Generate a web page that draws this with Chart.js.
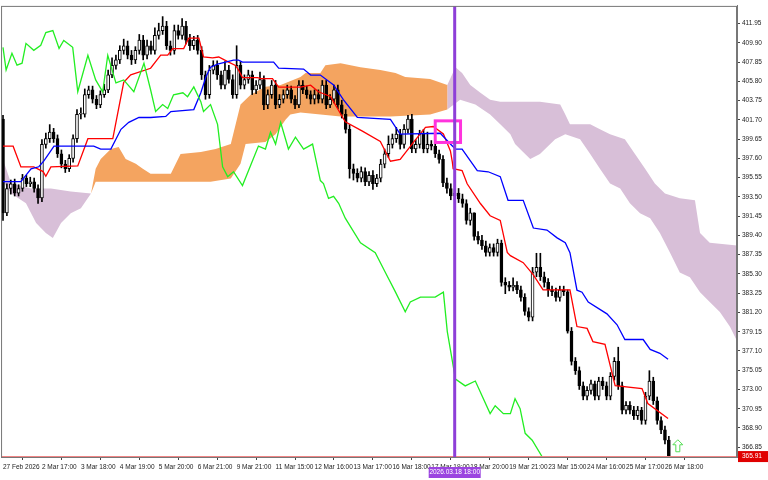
<!DOCTYPE html>
<html><head><meta charset="utf-8">
<script src="https://cdn.jsdelivr.net/npm/chart.js@4"></script>
<style>html,body{margin:0;padding:0;background:#fff}canvas{display:block}</style>
</head><body>
<canvas id="c" width="768" height="480"></canvas>
<script>
const xTickLabels=["27 Feb 2026","2 Mar 17:00","3 Mar 18:00","4 Mar 19:00","5 Mar 20:00","6 Mar 21:00","9 Mar 21:00","11 Mar 15:00","12 Mar 16:00","13 Mar 17:00","16 Mar 18:00","17 Mar 19:00","18 Mar 20:00","19 Mar 21:00","23 Mar 15:00","24 Mar 16:00","25 Mar 17:00","26 Mar 18:00"];
const yTicks=[411.95,409.90,407.85,405.80,403.75,401.70,399.65,397.60,395.55,393.50,391.45,389.40,387.35,385.30,383.25,381.20,379.15,377.10,375.05,373.00,370.95,368.90,366.85];
const opens=[401.8,391.8,394.4,394.9,393.9,394.4,395.5,394.9,395.1,394.4,
393.4,399.1,399.7,400.4,399.7,398.1,397.0,396.5,397.6,399.7,
402.3,402.3,404.4,404.9,403.9,403.3,404.4,404.9,406.5,407.5,
408.1,409.1,409.6,408.6,408.1,409.1,410.2,408.6,409.6,409.1,
410.7,411.2,411.7,409.6,409.1,411.2,410.7,411.7,410.2,409.6,
410.2,409.1,406.5,404.4,407.0,407.5,406.5,405.4,407.0,406.0,
404.4,407.5,405.4,406.0,406.5,404.9,405.4,406.0,403.3,404.4,
405.4,403.3,403.9,404.4,404.9,403.9,403.3,405.4,404.9,404.4,
403.9,404.4,403.9,405.4,403.3,403.9,404.9,403.3,402.3,400.7,
396.5,396.0,395.5,396.2,395.1,395.8,394.9,395.5,397.0,398.1,
399.1,399.7,400.2,399.1,400.7,401.8,398.6,399.1,400.2,398.6,
399.1,398.9,398.1,397.5,395.0,394.4,393.6,393.9,393.3,392.8,
391.0,391.8,389.3,388.9,388.3,387.6,388.1,387.6,388.6,384.4,
384.1,383.9,384.1,383.6,382.8,381.3,380.7,385.5,386.0,385.0,
384.4,383.6,383.4,382.8,383.6,383.4,379.2,376.0,375.0,373.4,
372.3,372.9,373.6,372.3,373.9,373.4,372.3,374.4,376.0,373.4,
370.8,371.3,370.8,370.2,370.8,369.7,372.3,373.9,371.8,369.7,368.7,367.6];
const highs=[402.2,394.9,395.3,395.4,394.8,395.9,395.8,395.6,395.5,394.8,
399.6,400.3,401.2,400.8,400.1,398.5,397.4,398.0,400.1,402.8,
403.0,405.0,405.3,405.3,404.3,404.8,405.5,407.0,408.3,408.6,
409.6,410.3,410.1,409.1,409.5,410.8,410.7,410.2,410.1,411.5,
412.0,412.7,412.2,410.1,411.8,411.8,412.5,412.2,410.8,410.6,
410.7,409.5,406.9,407.5,408.0,408.0,406.9,407.9,407.5,406.5,
409.6,407.9,406.5,407.0,406.9,405.9,406.8,406.4,404.9,405.9,
405.9,404.4,404.9,405.4,405.3,404.3,405.9,405.9,405.3,404.8,
404.9,404.9,405.9,405.9,404.4,405.4,405.4,403.8,402.8,401.2,
397.0,396.5,396.7,396.6,396.2,396.3,395.9,397.5,398.6,400.0,
400.2,400.9,400.7,401.2,402.2,402.3,399.6,400.6,400.7,400.4,
399.5,399.3,398.5,397.9,395.5,394.9,394.3,394.4,393.8,393.2,
392.3,391.8,389.8,389.4,388.8,388.5,388.5,389.0,388.9,384.9,
384.5,384.9,384.5,384.0,383.2,381.7,386.0,387.5,387.5,385.5,
384.8,384.0,383.8,384.0,384.0,383.6,379.6,376.4,375.4,373.8,
373.3,374.0,373.9,374.3,374.3,373.8,374.8,376.4,377.5,373.8,
371.7,371.7,371.2,371.2,371.1,372.7,375.0,374.3,372.2,370.1,369.1,368.0];
const lows=[391.0,391.5,393.8,393.6,393.6,394.1,394.6,394.6,394.0,392.8,
393.0,398.7,399.3,399.3,397.7,396.6,396.1,396.2,397.2,399.3,
401.8,402.0,404.0,403.5,402.9,403.0,404.1,404.6,406.2,407.1,
407.7,408.7,408.2,407.6,407.7,408.7,408.1,408.2,408.7,408.7,
410.3,410.8,409.2,408.6,408.7,410.3,410.3,409.8,409.1,409.2,
408.7,406.0,403.9,404.0,406.6,406.0,405.0,405.0,405.6,404.0,
404.0,405.0,405.0,405.6,404.4,404.5,405.0,402.8,402.9,404.0,
402.9,403.0,403.5,404.0,403.5,402.9,403.0,404.5,404.0,403.4,
403.4,403.5,403.5,402.9,403.0,403.5,402.9,401.9,400.3,395.5,
395.3,395.1,395.1,394.7,394.7,394.3,394.6,395.1,396.6,397.7,
398.7,399.3,398.6,398.7,400.3,398.2,398.2,398.7,398.2,398.2,
398.5,397.7,397.1,394.6,393.9,393.2,393.2,392.9,392.4,390.6,
390.5,388.9,388.5,387.9,387.2,387.2,387.2,387.2,384.0,383.2,
383.5,383.5,383.2,382.4,380.9,380.3,380.3,385.0,384.6,383.9,
382.9,383.0,382.4,382.4,383.0,379.0,375.6,374.6,373.0,371.9,
371.9,372.5,371.9,371.9,373.0,371.9,371.9,374.0,373.0,370.4,
370.4,370.4,369.8,369.8,369.3,369.3,371.9,371.4,369.3,368.3,367.2,365.5];
const closes=[391.8,394.4,394.9,393.9,394.4,395.5,394.9,395.1,394.4,393.4,
399.1,399.7,400.4,399.7,398.1,397.0,396.5,397.6,399.7,402.3,
402.3,404.4,404.9,403.9,403.3,404.4,404.9,406.5,407.5,408.1,
409.1,409.6,408.6,408.1,409.1,410.2,408.6,409.6,409.1,410.7,
411.2,411.7,409.6,409.1,411.2,410.7,411.7,410.2,409.6,410.2,
409.1,406.5,404.4,407.0,407.5,406.5,405.4,407.0,406.0,404.4,
407.5,405.4,406.0,406.5,404.9,405.4,406.0,403.3,404.4,405.4,
403.3,403.9,404.4,404.9,403.9,403.3,405.4,404.9,404.4,403.9,
404.4,403.9,405.4,403.3,403.9,404.9,403.3,402.3,400.7,396.5,
396.0,395.5,396.2,395.1,395.8,394.9,395.5,397.0,398.1,399.1,
399.7,400.2,399.1,400.7,401.8,398.6,399.1,400.2,398.6,399.1,
398.9,398.1,397.5,395.0,394.4,393.6,393.9,393.3,392.8,391.0,
391.8,389.3,388.9,388.3,387.6,388.1,387.6,388.6,384.4,384.1,
383.9,384.1,383.6,382.8,381.3,380.7,385.5,386.0,385.0,384.4,
383.6,383.4,382.8,383.6,383.4,379.2,376.0,375.0,373.4,372.3,
372.9,373.6,372.3,373.9,373.4,372.3,374.4,376.0,373.4,370.8,
371.3,370.8,370.2,370.8,369.7,372.3,373.9,371.8,369.7,368.7,367.6,365.9];
// indicator vertices [barIndex, price]
const tenkan=[[0,398.9],[2.6,398.9],[4.6,396.7],[7.9,396.7],[10.3,396.2],[11,395.7],[12.3,396.7],[19.2,396.8],[21.8,399.7],[28.2,399.7],[31,405.7],[32.8,406.5],[37.9,407.2],[40.5,408.6],[42.3,408.6],[43.6,409.3],[46.4,409.3],[47.7,410.4],[50.3,410.4],[51.5,408.4],[53.8,408.3],[55.4,408.4],[57.7,407.9],[59.7,407.5],[60.5,407.0],[61.5,406.2],[65.4,406.2],[66.2,406.1],[69.2,406.1],[70.8,405.2],[76.4,405.2],[79,405.4],[81,404.7],[84.1,404.2],[87.9,401.5],[92.3,400.5],[96.9,399.4],[99.5,397.3],[102,397.5],[105.4,399.3],[108.5,400.9],[110.5,401.0],[113.1,400.2],[114.9,398.4],[115.4,397.2],[115.6,396.5],[117.9,396.3],[119.2,394.9],[122.6,392.8],[125.1,391.5],[127.7,391.0],[129.5,387.6],[130.3,387.25],[133.6,386.5],[136.2,385.2],[138.7,383.6],[145.6,383.6],[147.4,379.7],[150,379.5],[151.5,378.1],[154.6,377.8],[157.2,373.4],[164.1,373.1],[165.6,371.5],[170.8,369.9]];
const kijun=[[0,395.13],[4.6,395.13],[7.2,396.5],[9.2,396.71],[10.5,397.34],[13.1,398.92],[23.3,398.92],[25.1,398.6],[27.7,398.6],[30.3,400.7],[32.3,401.44],[34.9,401.96],[37.9,401.96],[41.8,402.07],[43.1,402.59],[49,402.8],[50.8,404.59],[52.1,406.27],[53.3,407.32],[55.1,407.64],[59.2,408.06],[60.5,408.06],[61.5,407.85],[69.5,407.85],[70.8,407.22],[77.2,407.11],[79,406.48],[81.5,406.48],[84.9,405.43],[87.4,403.86],[91,401.96],[99.5,401.75],[102,400.18],[112.3,400.28],[114.9,399.13],[116.2,398.6],[117.9,398.6],[121.8,396.29],[124.6,396.18],[127.7,395.66],[129.7,393.14],[133.6,393.14],[136.2,390.19],[139.7,389.98],[142.3,389.14],[144.4,388.62],[145.6,387.57],[147.4,383.57],[148.7,383.36],[150.3,382.31],[155.1,381.05],[157.7,379.89],[159.7,378.32],[164.4,378.32],[166.2,377.27],[168.7,376.85],[170.8,376.22]];
const chikou=[[0,409.43],[0.8,407.01],[2.3,408.8],[3.6,407.53],[4.9,407.74],[5.9,409.85],[7.9,409.11],[9.7,409.64],[11,411.0],[12.8,411.21],[14.4,409.32],[15.6,410.16],[17.9,409.43],[19.2,404.7],[21.8,408.59],[23.8,405.96],[25.6,404.7],[26.9,408.59],[29,405.64],[31,405.96],[33.6,404.7],[36.2,407.74],[37.9,404.91],[39.2,402.59],[41,403.33],[42.3,402.91],[43.8,404.38],[46.2,404.59],[47.4,404.17],[49,405.22],[50.8,403.64],[51.5,402.59],[53.3,403.33],[55.1,401.23],[56.4,396.71],[57.7,395.66],[59.2,396.18],[61.5,394.71],[65.6,398.92],[67.4,398.6],[68.7,400.39],[70,399.13],[71.3,401.44],[73.3,398.6],[75.1,399.86],[77.2,398.6],[79.5,399.13],[81.5,395.24],[82.3,394.92],[83.6,393.35],[84.9,393.56],[86.2,392.82],[87.9,391.24],[91.8,388.62],[95.6,387.57],[98.2,385.46],[100.8,383.36],[103.3,381.26],[104.6,382.31],[107.2,382.84],[111,382.84],[113.1,383.36],[114.1,379.16],[116.2,374.11],[118.7,373.38],[121.3,373.9],[125.1,370.43],[126.4,371.27],[128.5,370.43],[130.3,370.43],[131.5,372.01],[132.8,370.96],[134.1,368.33],[135.9,367.6],[138.5,365.81]];
const cloudLeftDown=[[-0.5,398.08],[2.1,394.92],[7.2,394.4],[12.3,394.4],[17.4,394.08],[22.6,393.87],[20,392.29],[17.4,391.77],[14.9,390.72],[12.8,389.14],[11,389.67],[8.5,390.72],[5.9,392.82],[2.1,393.87],[-0.5,395.45]];
const cloudUp=[[22.6,393.87],[23.8,396.5],[25.1,397.55],[27.7,398.6],[29.7,398.81],[31.5,397.55],[34.1,397.02],[35.9,396.5],[37.9,395.97],[43.1,395.97],[45.6,398.08],[50.8,398.29],[54.6,398.6],[58.5,399.13],[61,403.33],[63.6,404.38],[67.4,405.22],[71.3,405.43],[76.4,406.27],[77.7,406.69],[81.5,406.69],[82.8,407.53],[86.7,407.74],[91.8,407.32],[96.9,407.01],[100.8,406.69],[103.3,406.27],[109.7,406.06],[114.1,405.43],[114.1,402.8],[109.7,402.28],[99.5,402.07],[86.7,402.07],[76.4,402.49],[73.8,402.28],[72.6,401.75],[70,400.18],[67.4,399.34],[62.3,399.13],[61,397.02],[58.5,395.45],[53.3,395.13],[23.8,395.13]];
const cloudRightDown=[[114.1,405.43],[116.2,407.32],[117.9,406.69],[120,405.43],[122.6,404.59],[125.1,403.86],[127.7,403.64],[137.9,403.64],[143.1,403.33],[144.4,402.28],[145.6,401.23],[150.8,401.23],[153.3,400.7],[155.9,400.18],[159.7,399.65],[162.3,398.08],[164.9,396.5],[167.4,394.92],[170,393.87],[173.8,393.35],[177.7,393.14],[179,389.67],[181.5,388.62],[189.2,388.3],[189.2,377.58],[186.7,379.68],[184.1,381.26],[181.5,382.31],[179,383.36],[176.4,384.94],[173.8,385.46],[171.3,387.57],[168.7,389.67],[166.2,391.24],[163.6,391.77],[161,392.82],[158.5,394.4],[155.9,394.92],[153.3,396.5],[150.8,398.08],[148.2,399.65],[144.4,400.18],[141.8,399.65],[137.9,398.08],[135.4,397.55],[133.3,398.39],[131.5,399.13],[130.3,400.18],[127.7,401.23],[125.1,402.28],[121.3,403.33],[117.4,403.86],[114.1,402.8]];
const currentPrice=365.91, cursorBar=116, cursorLabel="2026.03.18 18:00";

const idx=closes.map((_,i)=>i);
const pts=a=>a.map(p=>({x:p[0],y:p[1]}));
const bull=idx.map(i=>closes[i]>=opens[i]);
const ctxC=document.getElementById('c');
const poly=(d,col)=>({type:'line',data:pts(d),borderWidth:0,borderColor:col,backgroundColor:col,fill:'shape',pointRadius:0,tension:0,order:10});
const ln=(d,col)=>({type:'line',data:pts(d),borderWidth:1.3,borderColor:col,fill:false,pointRadius:0,tension:0,order:1});
const FONT='"Liberation Sans", Arial, sans-serif';
const extra={id:'extra',
 afterDatasetsDraw(ch){
  const c=ch.ctx,xs=ch.scales.x,ys=ch.scales.y,a=ch.chartArea;
  c.save();
  const py=ys.getPixelForValue(currentPrice);
  c.strokeStyle='#f08080';c.lineWidth=1;c.beginPath();c.moveTo(a.left,py+0.5);c.lineTo(a.right,py+0.5);c.stroke();
  const bx0=xs.getPixelForValue(111),bx1=xs.getPixelForValue(117.5),by0=ys.getPixelForValue(401.6),by1=ys.getPixelForValue(399.3);
  c.strokeStyle='#ff33dd';c.lineWidth=3;c.strokeRect(bx0,by0,bx1-bx0,by1-by0);
  const vx=xs.getPixelForValue(cursorBar);
  c.strokeStyle='#8e3fd8';c.lineWidth=3;c.beginPath();c.moveTo(vx,a.top);c.lineTo(vx,a.bottom);c.stroke();
  const ax=xs.getPixelForValue(173.3),ay=ys.getPixelForValue(366.9);
  c.strokeStyle='#55dd55';c.lineWidth=1;c.beginPath();
  c.moveTo(ax,ay-7);c.lineTo(ax+5,ay-2);c.lineTo(ax+2,ay-2);c.lineTo(ax+2,ay+5);c.lineTo(ax-2,ay+5);c.lineTo(ax-2,ay-2);c.lineTo(ax-5,ay-2);c.closePath();c.stroke();
  c.strokeStyle='#777';c.lineWidth=1;c.strokeRect(a.left+0.5,a.top+0.5,a.right-a.left-1,a.bottom-a.top);
  c.restore();
 },
 afterDraw(ch){
  const c=ch.ctx,xs=ch.scales.x,ys=ch.scales.y,a=ch.chartArea;
  c.save();
  const vx=xs.getPixelForValue(cursorBar);
  c.fillStyle='#9b45e0';c.fillRect(vx-26,a.bottom+10,52,11);
  c.fillStyle='#fff';c.font='6.5px '+FONT;c.textBaseline='middle';c.textAlign='center';c.fillText(cursorLabel,vx,a.bottom+15.5);
  const py=ys.getPixelForValue(currentPrice);
  c.fillStyle='#e00000';c.fillRect(a.right+1,py-5,30,11);
  c.fillStyle='#fff';c.textAlign='left';c.font='6.5px '+FONT;c.fillText(currentPrice.toFixed(2),a.right+5,py+0.5);
  c.restore();
 }};
new Chart(ctxC,{
 data:{datasets:[
  poly(cloudLeftDown,'#d8bfd8'),poly(cloudUp,'#f4a460'),poly(cloudRightDown,'#d8bfd8'),
  {type:'bar',data:idx.map(i=>({x:i,y:[lows[i],highs[i]]})),backgroundColor:'#000',barThickness:1,grouped:false,order:5},
  {type:'bar',data:idx.map(i=>({x:i,y:[opens[i],closes[i]]})),backgroundColor:bull.map(b=>b?'#fff':'#000'),borderColor:'#000',borderWidth:1,borderSkipped:false,barThickness:3,minBarLength:1,grouped:false,order:4},
  ln(chikou,'#22ee22'),ln(kijun,'#0000ff'),ln(tenkan,'#ff0000')
 ]},
 options:{responsive:false,animation:false,
  layout:{padding:{left:0,top:0,right:0,bottom:0}},
  plugins:{legend:{display:false},tooltip:{enabled:false}},
  scales:{
   x:{type:'linear',min:-0.5,max:188.5,offset:false,
    afterBuildTicks:s=>{s.ticks=xTickLabels.map((_,j)=>({value:j*10}));},
    afterFit:s=>{s.height=23;},
    ticks:{autoSkip:false,maxRotation:0,align:'start',padding:3,font:{family:FONT,size:6.5},color:'#222',callback:(v)=>xTickLabels[Math.round(v/10)]??''},
    grid:{drawOnChartArea:false,drawTicks:true,tickLength:3,color:'#444'},border:{color:'#777'}},
   y:{position:'right',min:365.81,max:413.84,
    afterBuildTicks:s=>{s.ticks=yTicks.map(v=>({value:v}));},
    afterFit:s=>{s.width=31;},
    ticks:{autoSkip:false,padding:2,font:{family:FONT,size:6.5},color:'#222',callback:v=>v.toFixed(2)},
    grid:{drawOnChartArea:false,drawTicks:true,tickLength:3,color:'#444'},border:{color:'#777'}}
  }},
 plugins:[extra]});
</script></body></html>
